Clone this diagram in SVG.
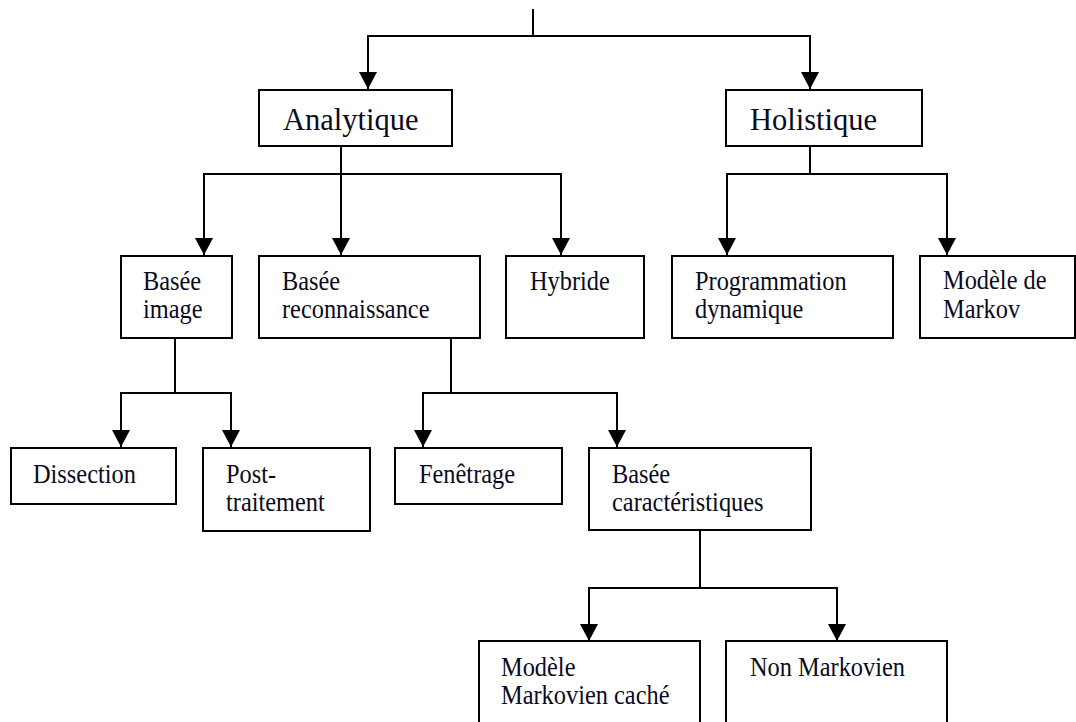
<svg xmlns="http://www.w3.org/2000/svg" width="1076" height="722" viewBox="0 0 1076 722">
<style>
.box{fill:#fff;stroke:#000;stroke-width:2}
.c{fill:none;stroke:#000;stroke-width:2}
.big{font-family:"Liberation Serif","Times New Roman",serif;font-size:30.5px;fill:#0a0a1e}
.s{font-family:"Liberation Serif","Times New Roman",serif;font-size:26.5px;fill:#0a0a1e}
</style>
<defs>
<marker id="ah" markerUnits="userSpaceOnUse" markerWidth="18" markerHeight="18" viewBox="0 0 18 18" refX="17" refY="9" orient="auto">
<path d="M0,0 L17,9 L0,18 Z" fill="#000"/>
</marker>
</defs>
<rect width="1076" height="722" fill="#fff"/>
<g id="connectors">
<path class="c" d="M533,9 V37"/>
<path class="c" d="M533,36 H368 V89" marker-end="url(#ah)"/>
<path class="c" d="M533,36 H810 V89" marker-end="url(#ah)"/>
<path class="c" d="M341,146 V174"/>
<path class="c" d="M341,174 H204 V255" marker-end="url(#ah)"/>
<path class="c" d="M341,174 V255" marker-end="url(#ah)"/>
<path class="c" d="M341,174 H561 V255" marker-end="url(#ah)"/>
<path class="c" d="M810,146 V174"/>
<path class="c" d="M810,174 H727 V255" marker-end="url(#ah)"/>
<path class="c" d="M810,174 H947 V255" marker-end="url(#ah)"/>
<path class="c" d="M175,338 V393"/>
<path class="c" d="M175,393 H121 V447" marker-end="url(#ah)"/>
<path class="c" d="M175,393 H231 V447" marker-end="url(#ah)"/>
<path class="c" d="M451,338 V393"/>
<path class="c" d="M451,393 H423 V447" marker-end="url(#ah)"/>
<path class="c" d="M451,393 H617 V447" marker-end="url(#ah)"/>
<path class="c" d="M700,530 V588"/>
<path class="c" d="M700,588 H589 V641" marker-end="url(#ah)"/>
<path class="c" d="M700,588 H837 V641" marker-end="url(#ah)"/>
</g>
<g id="analytique">
<rect class="box" x="259" y="90" width="193" height="56"/>
<text class="big" x="283" y="130">Analytique</text>
</g>
<g id="holistique">
<rect class="box" x="726" y="90" width="196" height="56"/>
<text class="big" x="750" y="130">Holistique</text>
</g>
<g id="basee-image">
<rect class="box" x="121" y="256" width="111" height="82"/>
<text class="s" transform="translate(143 290) scale(0.92 1)"><tspan x="0" y="0">Basée</tspan><tspan x="0" y="28">image</tspan></text>
</g>
<g id="basee-reconnaissance">
<rect class="box" x="259" y="256" width="221" height="82"/>
<text class="s" transform="translate(282 290) scale(0.92 1)"><tspan x="0" y="0">Basée</tspan><tspan x="0" y="28">reconnaissance</tspan></text>
</g>
<g id="hybride">
<rect class="box" x="506" y="256" width="138" height="82"/>
<text class="s" transform="translate(530 290) scale(0.92 1)">Hybride</text>
</g>
<g id="programmation-dynamique">
<rect class="box" x="672" y="256" width="221" height="82"/>
<text class="s" transform="translate(695 290) scale(0.92 1)"><tspan x="0" y="0">Programmation</tspan><tspan x="0" y="28">dynamique</tspan></text>
</g>
<g id="modele-de-markov">
<rect class="box" x="920" y="256" width="155" height="82"/>
<text class="s" transform="translate(943 289) scale(0.92 1)"><tspan x="0" y="0">Modèle de</tspan><tspan x="0" y="29">Markov</tspan></text>
</g>
<g id="dissection">
<rect class="box" x="11" y="448" width="165" height="56"/>
<text class="s" transform="translate(33 483) scale(0.92 1)">Dissection</text>
</g>
<g id="post-traitement">
<rect class="box" x="203" y="448" width="167" height="83"/>
<text class="s" transform="translate(226 483) scale(0.92 1)"><tspan x="0" y="0">Post-</tspan><tspan x="0" y="28">traitement</tspan></text>
</g>
<g id="fenetrage">
<rect class="box" x="395" y="448" width="167" height="56"/>
<text class="s" transform="translate(419 483) scale(0.92 1)">Fenêtrage</text>
</g>
<g id="basee-caracteristiques">
<rect class="box" x="589" y="448" width="222" height="82"/>
<text class="s" transform="translate(612 483) scale(0.92 1)"><tspan x="0" y="0">Basée</tspan><tspan x="0" y="28">caractéristiques</tspan></text>
</g>
<g id="modele-markovien-cache">
<rect class="box" x="479" y="641" width="221" height="100"/>
<text class="s" transform="translate(501 676) scale(0.92 1)"><tspan x="0" y="0">Modèle</tspan><tspan x="0" y="28">Markovien caché</tspan></text>
</g>
<g id="non-markovien">
<rect class="box" x="726" y="641" width="221" height="100"/>
<text class="s" transform="translate(750 676) scale(0.92 1)">Non Markovien</text>
</g>
</svg>
